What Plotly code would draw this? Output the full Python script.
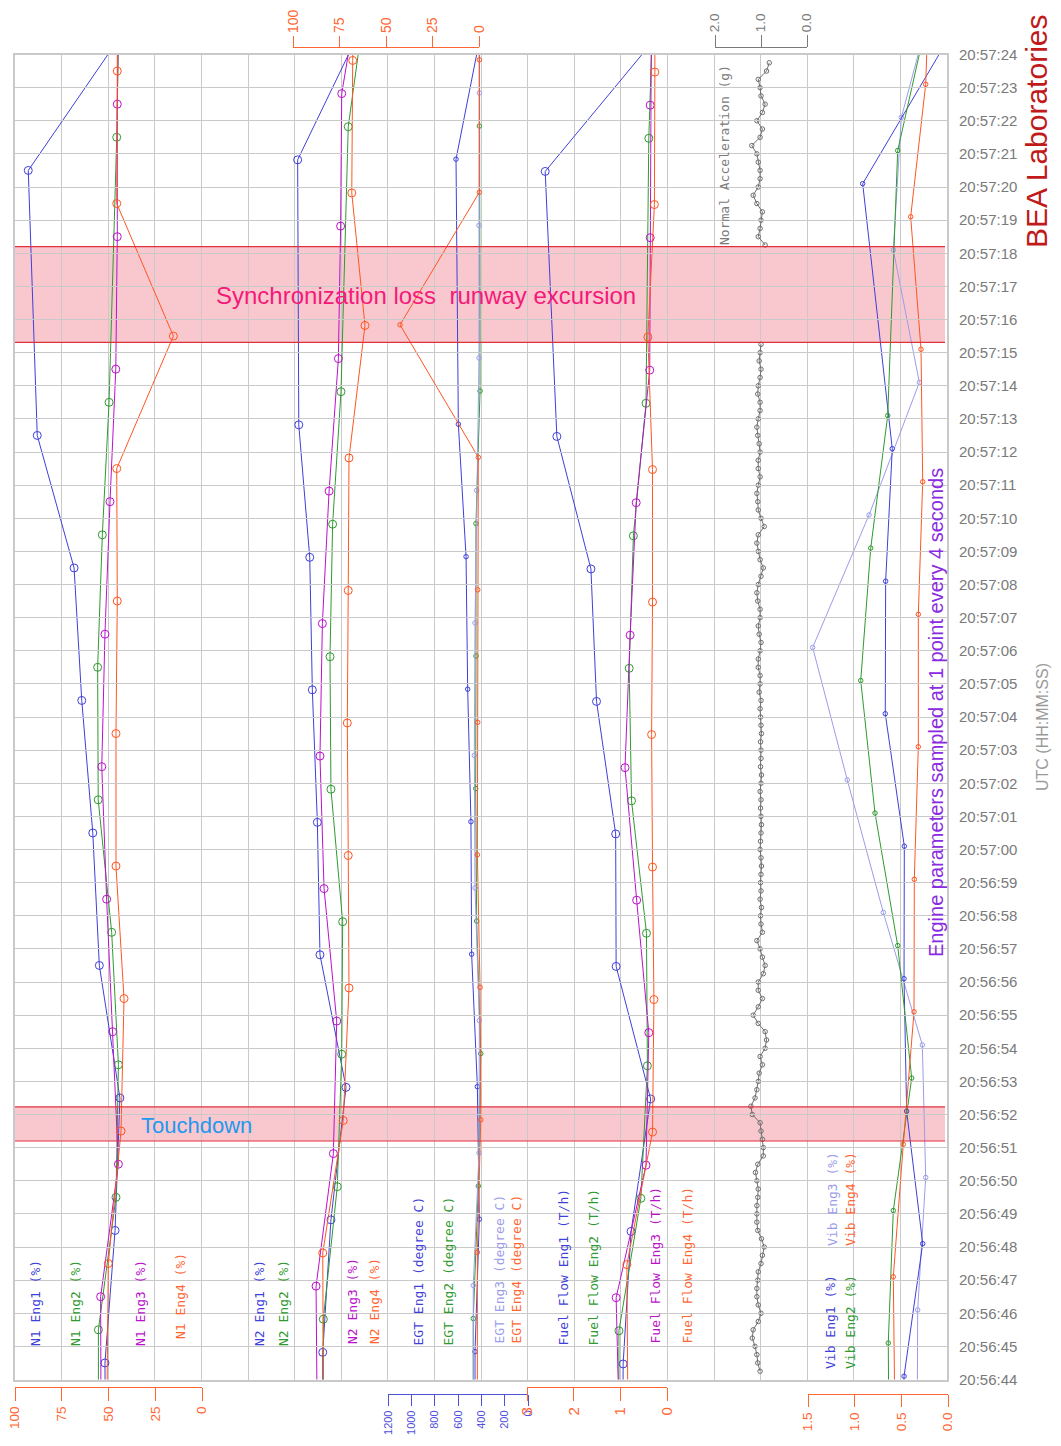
import plotly.graph_objects as go

# ---------------- DATA ----------------
# frame start times (s after 20:56:44); engine k is sampled at frame + offset + (k-1)
FRAMES = [-4, 0, 4, 8, 12, 16, 20, 24, 28, 32, 36, 40]
OFFSET_N1, OFFSET_N2, OFFSET_EGT, OFFSET_FF, OFFSET_VIB = 0.5, 0.82, 0.84, 0.47, 0.1

N1_ENG1 = [51.5, 51.9, 46.5, 43.9, 54.9, 58.4, 64.3, 68.4, 88.1, None, 92.9, 44.2]
N1_ENG2 = [55.4, 55.4, 46.0, 44.7, 48.3, 55.5, 55.8, 53.3, 49.7, None, 45.6, 44.3]
N1_ENG3 = [54.0, 54.2, 44.7, 47.8, 51.0, 53.6, 51.9, 49.2, 46.1, 45.3, 45.3, 44.5]
N1_ENG4 = [50.8, 50.1, 43.3, 41.7, 46.0, 46.0, 45.3, 45.6, 15.3, 45.6, 45.3, 45.3]

N2_ENG1 = [84.0, 84.0, 79.6, 71.5, 85.5, 86.9, 89.6, 91.0, 96.9, None, 97.5, 63.1]
N2_ENG2 = [83.7, 83.7, 76.2, 73.8, 73.3, 79.6, 80.1, 78.7, 74.2, None, 70.3, 60.5]
N2_ENG3 = [87.0, 87.6, 78.3, 76.5, 83.3, 85.5, 84.2, 80.6, 75.6, 74.4, 73.8, 62.0]
N2_ENG4 = [83.7, 84.0, 73.0, 69.9, 70.3, 70.8, 70.3, 69.9, 61.3, 68.4, 67.9, 67.5]

EGT_ENG1 = [454, 454, 417, 434, 483, 489, 517, 531, 597, None, 617, 393]
EGT_ENG2 = [469, 469, 426, 405, 440, 448, 446, 446, 411, None, 417, 417]
EGT_ENG3 = [469, 469, 420, 417, 454, 460, 454, 440, 420, 420, 417, 417]
EGT_ENG4 = [434, 434, 405, 411, 434, 431, 431, 426, 1097, 417, 417, 417]

FF_ENG1 = [0.95, 0.94, 0.77, 0.35, 1.09, 1.10, 1.51, 1.63, 2.36, None, 2.61, 0.26]
FF_ENG2 = [1.03, 1.03, 0.56, 0.42, 0.44, 0.76, 0.81, 0.72, 0.45, None, 0.39, 0.30]
FF_ENG3 = [1.02, 1.09, 0.45, 0.39, 0.65, 0.90, 0.79, 0.66, 0.37, 0.36, 0.36, 0.33]
FF_ENG4 = [0.84, 0.86, 0.31, 0.28, 0.31, 0.33, 0.31, 0.31, 0.41, 0.27, 0.26, 0.26]

VIB_ENG1 = [0.48, 0.471, 0.271, 0.443, 0.471, 0.468, 0.672, 0.668, 0.597, None, 0.914, 0.075]
VIB_ENG2 = [0.63, 0.640, 0.586, 0.389, 0.539, 0.782, 0.935, 0.828, 0.646, None, 0.539, 0.22]
VIB_ENG3 = [0.33, 0.325, 0.239, 0.275, 0.693, 1.079, 1.45, 0.846, 0.307, 0.586, 0.50, 0.12]
VIB_ENG4 = [0.57, 0.586, 0.479, 0.364, 0.361, 0.318, 0.318, 0.271, 0.289, 0.40, 0.239, 0.19]

# normal acceleration, 4 Hz; first block t = 0.25 .. 31.25 s, second t = 34.25 .. 39.75 s
ACC_RATE = 4
ACC_START_A, ACC_START_B = 0.25, 34.25
ACC_G_A = [1.02, 1.07, 1.09, 1.13, 1.19, 1.17, 1.06, 1.00, 1.06, 1.09,
           1.09, 1.07, 1.06, 1.00, 0.97, 0.93, 0.99, 1.07, 1.09, 1.09,
           1.09, 1.07, 1.06, 1.09, 1.12, 1.07, 0.95, 0.95, 0.97, 1.00,
           1.02, 1.19, 1.22, 1.13, 1.09, 1.06, 1.04, 0.97, 1.02, 0.91,
           0.88, 0.91, 1.06, 1.17, 1.06, 0.97, 1.06, 1.06, 0.95, 0.91,
           0.97, 1.02, 1.09, 0.97,
           1.00, 1.01, 0.99, 1.02, 1.00, 1.01, 1.00, 0.99, 1.00, 1.02,
           1.01, 1.00, 0.99, 1.00, 1.01, 1.00, 1.02, 1.00, 0.99, 1.01,
           1.00, 1.00, 1.01, 0.99, 1.00, 1.01,
           1.02, 1.00, 1.04, 1.02, 1.02, 1.06, 1.06, 1.02, 1.00, 1.04,
           1.06, 1.02, 1.02, 1.07, 1.09, 1.06, 1.00, 0.95, 1.02, 1.06,
           1.09, 1.06, 0.93, 1.00, 1.06, 1.07, 1.09, 1.06, 1.02, 1.06,
           1.06, 1.02, 1.04, 1.07, 1.09, 1.06, 1.02, 1.02, 1.07, 1.06,
           1.02, 1.00, 1.04, 1.02, 1.00]
ACC_G_B = [0.91, 1.06, 1.02, 1.00, 0.97, 1.09, 1.17, 1.06, 1.02, 1.02,
           1.06, 1.09, 1.20, 1.02, 0.97, 1.09, 0.97, 0.91, 1.00, 1.02,
           1.06, 0.88, 0.82]

TIME_LABELS = [f"20:{56 + (44 + s) // 60}:{(44 + s) % 60:02d}" for s in range(41)]
N1_TICKS = [100, 75, 50, 25, 0]
N2_TICKS = [100, 75, 50, 25, 0]
EGT_TICKS = [1200, 1000, 800, 600, 400, 200, 0]
FF_TICKS = [3, 2, 1, 0]
ACC_TICKS = [2.0, 1.0, 0.0]
VIB_TICKS = [1.5, 1.0, 0.5, 0.0]

SYNC_LOSS = (31.31, 34.20)
TOUCHDOWN = (7.20, 8.23)

# ---------------- STYLE / LAYOUT ----------------
# the page body has an 8 px margin: the figure is sized to fit the 1061x1446 window
# and all page-pixel positions below are converted into figure paper coordinates.
PAGE_OFF = 8
W, H = 1061 - 2 * PAGE_OFF, 1446 - 2 * PAGE_OFF
PL, PR, PT, PB = 15, 947, 54.5, 1379.5


def px(x):
    return (x - PAGE_OFF) / W


def py(y):
    return 1 - (y - PAGE_OFF) / H


C1, C2, C3, C4, C3L = '#3F3FD9', '#2F9A2F', '#BB11CC', '#FF5522', '#9C9CEA'
AX_OR, AX_BL, AX_GR = '#FF6633', '#5050D8', '#7A7A7A'
GRID = '#C9C9C9'
MONO = 'DejaVu Sans Mono'
SANS = 'Liberation Sans'

# panel value->pixel calibration (value_a at pixel_a, value_b at pixel_b)
PANELS = {
    'N1': (100, 15, 0, 202),
    'N2': (100, 293, 0, 479),
    'EGT': (1200, 388, 0, 528),
    'FF': (3, 527, 0, 667),
    'ACC': (2, 715, 0, 807),
    'VIB': (1.5, 808, 0, 948),
}
AXIS_OF = {'N1': 'x2', 'N2': 'x3', 'EGT': 'x4', 'FF': 'x5', 'ACC': 'x6', 'VIB': 'x7'}


def full_range(spec):
    va, pa, vb, pb = spec
    s = (vb - va) / (pb - pa)
    return [va + (PL - pa) * s, va + (PR - pa) * s]


fig = go.Figure()

# base trace for the grid axes
fig.add_trace(go.Scatter(x=[None], y=[None], xaxis='x', yaxis='y', showlegend=False, hoverinfo='skip'))


def add_series(panel, offset, eng, values, color, msize):
    times = [f + offset + (eng - 1) for f in FRAMES]
    fig.add_trace(go.Scatter(
        x=values, y=times, xaxis=AXIS_OF[panel], yaxis='y', mode='lines+markers',
        line=dict(color=color, width=1),
        marker=dict(symbol='circle-open', size=msize, color=color, line=dict(width=1, color=color)),
        connectgaps=True, showlegend=False, hoverinfo='skip'))


for eng, vals, col in [(1, N1_ENG1, C1), (2, N1_ENG2, C2), (3, N1_ENG3, C3), (4, N1_ENG4, C4)]:
    add_series('N1', OFFSET_N1, eng, vals, col, 8)
for eng, vals, col in [(1, N2_ENG1, C1), (2, N2_ENG2, C2), (3, N2_ENG3, C3), (4, N2_ENG4, C4)]:
    add_series('N2', OFFSET_N2, eng, vals, col, 8)
for eng, vals, col in [(1, EGT_ENG1, C1), (2, EGT_ENG2, C2), (3, EGT_ENG3, C3L), (4, EGT_ENG4, C4)]:
    add_series('EGT', OFFSET_EGT, eng, vals, col, 4.5)
for eng, vals, col in [(1, FF_ENG1, C1), (2, FF_ENG2, C2), (3, FF_ENG3, C3), (4, FF_ENG4, C4)]:
    add_series('FF', OFFSET_FF, eng, vals, col, 8)
for eng, vals, col in [(3, VIB_ENG3, C3L), (1, VIB_ENG1, C1), (2, VIB_ENG2, C2), (4, VIB_ENG4, C4)]:
    add_series('VIB', OFFSET_VIB, eng, vals, col, 4.5)

acc_t = [ACC_START_A + i / ACC_RATE for i in range(len(ACC_G_A))] + [None] + \
        [ACC_START_B + i / ACC_RATE for i in range(len(ACC_G_B))]
acc_v = ACC_G_A + [None] + ACC_G_B
fig.add_trace(go.Scatter(
    x=acc_v, y=acc_t, xaxis='x6', yaxis='y', mode='lines+markers',
    line=dict(color='#6E6E6E', width=1),
    marker=dict(symbol='circle-open', size=4.5, color='#6E6E6E', line=dict(width=1)),
    connectgaps=False, showlegend=False, hoverinfo='skip'))

layout = dict(
    width=W, height=H, margin=dict(l=0, r=0, t=0, b=0, pad=0, autoexpand=False),
    paper_bgcolor='white', plot_bgcolor='rgba(0,0,0,0)', showlegend=False,
    xaxis=dict(domain=[px(PL), px(PR)], range=[0, 20], tick0=0, dtick=1, showgrid=True,
               gridcolor=GRID, gridwidth=1.3, showticklabels=False, ticks='', zeroline=False,
               showline=True, mirror=True, linecolor=GRID, linewidth=2, anchor='y',
               automargin=False, fixedrange=True),
    yaxis=dict(domain=[py(PB), py(PT)], range=[0, 40], tickvals=list(range(41)), ticktext=TIME_LABELS,
               side='right', showgrid=True, gridcolor=GRID, gridwidth=1.3, zeroline=False,
               showline=True, mirror=True, linecolor=GRID, linewidth=2, ticks='',
               ticklabelstandoff=7, tickfont=dict(family=SANS, size=15, color='#7A7A7A'),
               anchor='x', automargin=False, fixedrange=True),
)
for key, ax in AXIS_OF.items():
    layout['xaxis' + ax[1:]] = dict(overlaying='x', range=full_range(PANELS[key]), visible=False,
                                   anchor='y', automargin=False, fixedrange=True)

BRACKETS = [
    ('N1', N1_TICKS, [str(v) for v in N1_TICKS], 'bottom', 1387, AX_OR, 13.5, 13),
    ('EGT', EGT_TICKS, [str(v) for v in EGT_TICKS], 'bottom', 1394, AX_BL, 11, 11),
    ('FF', FF_TICKS, [str(v) for v in FF_TICKS], 'bottom', 1387, AX_OR, 15, 13),
    ('VIB', VIB_TICKS, [f"{v:.1f}" for v in VIB_TICKS], 'bottom', 1394, AX_OR, 13.5, 12),
    ('N2', N2_TICKS, [str(v) for v in N2_TICKS], 'top', 47, AX_OR, 14, 11),
    ('ACC', ACC_TICKS, [f"{v:.1f}" for v in ACC_TICKS], 'top', 47, AX_GR, 13.5, 12),
]
for j, (key, tv, tt, side, ly, col, fs, tl) in enumerate(BRACKETS, start=8):
    va, pa, vb, pb = PANELS[key]
    layout[f'xaxis{j}'] = dict(
        domain=[px(pa), px(pb)], range=[va, vb], anchor='free', position=py(ly), side=side,
        tickvals=tv, ticktext=tt, ticks='outside', ticklen=tl, tickwidth=1, tickcolor=col,
        showline=True, linecolor=col, linewidth=1.2, showgrid=False, zeroline=False,
        tickangle=-90, tickfont=dict(family=SANS, size=fs, color=col), automargin=False,
        ticklabeloverflow='allow', fixedrange=True)
    fig.add_trace(go.Scatter(x=[None], y=[None], xaxis=f'x{j}', yaxis='y', showlegend=False,
                             hoverinfo='skip'))

# bands
shapes = []
for (t0, t1) in [SYNC_LOSS, TOUCHDOWN]:
    shapes.append(dict(type='rect', xref='paper', yref='y', x0=px(PL), x1=px(945), y0=t0, y1=t1,
                       fillcolor='#F9C8CE', line=dict(width=0), layer='below'))
    for t in (t0, t1):
        shapes.append(dict(type='line', xref='paper', yref='y', x0=px(PL), x1=px(945), y0=t, y1=t,
                           line=dict(color='#E0303C', width=1.2), layer='above'))
layout['shapes'] = shapes

# annotations
ann = []


def rot(text, x, y, color, size=13, family=MONO, yanchor='bottom'):
    ann.append(dict(text=text, x=px(x), y=py(y), xref='paper', yref='paper', showarrow=False,
                    textangle=-90, xanchor='center', yanchor=yanchor,
                    font=dict(family=family, size=size, color=color)))


rot('N1 Eng1 (%)', 35, 1348, C1)
rot('N1 Eng2 (%)', 75, 1348, C2)
rot('N1 Eng3 (%)', 140, 1348, C3)
rot('N1 Eng4 (%)', 180, 1341, AX_OR)
rot('N2 Eng1 (%)', 259, 1348, C1)
rot('N2 Eng2 (%)', 283, 1348, C2)
rot('N2 Eng3 (%)', 352, 1346, C3)
rot('N2 Eng4 (%)', 374, 1346, AX_OR)
rot('EGT Eng1 (degree C)', 418, 1348, C1)
rot('EGT Eng2 (degree C)', 448, 1348, C2)
rot('EGT Eng3 (degree C)', 499, 1346, C3L)
rot('EGT Eng4 (degree C)', 516, 1346, AX_OR)
rot('Fuel Flow Eng1 (T/h)', 563, 1348, C1)
rot('Fuel Flow Eng2 (T/h)', 593, 1348, C2)
rot('Fuel Flow Eng3 (T/h)', 655, 1346, C3)
rot('Fuel Flow Eng4 (T/h)', 687, 1346, AX_OR)
rot('Vib Eng1 (%)', 830, 1371, C1)
rot('Vib Eng2 (%)', 850, 1371, C2)
rot('Vib Eng3 (%)', 832, 1248, C3L)
rot('Vib Eng4 (%)', 850, 1248, AX_OR)
rot('Normal Acceleration (g)', 725, 63, AX_GR, yanchor='top')
rot('BEA Laboratories', 1037, 132, '#C01A1A', size=30, family=SANS, yanchor='middle')
rot('UTC (HH:MM:SS)', 1043, 727, '#9A9A9A', size=16, family=SANS, yanchor='middle')
rot('Engine parameters sampled at 1 point every 4 seconds', 936, 713, '#8A2BE2', size=20,
    family=SANS, yanchor='middle')

ann.append(dict(text='Synchronization loss  runway excursion', x=px(426), y=py(295), xref='paper',
                yref='paper', showarrow=False, xanchor='center', yanchor='middle',
                font=dict(family=SANS, size=24, color='#F5197A')))
ann.append(dict(text='Touchdown', x=px(196), y=py(1125), xref='paper', yref='paper', showarrow=False,
                xanchor='center', yanchor='middle', font=dict(family=SANS, size=22, color='#2299EE')))
layout['annotations'] = ann

fig.update_layout(**layout)
fig.write_html("out.html")
